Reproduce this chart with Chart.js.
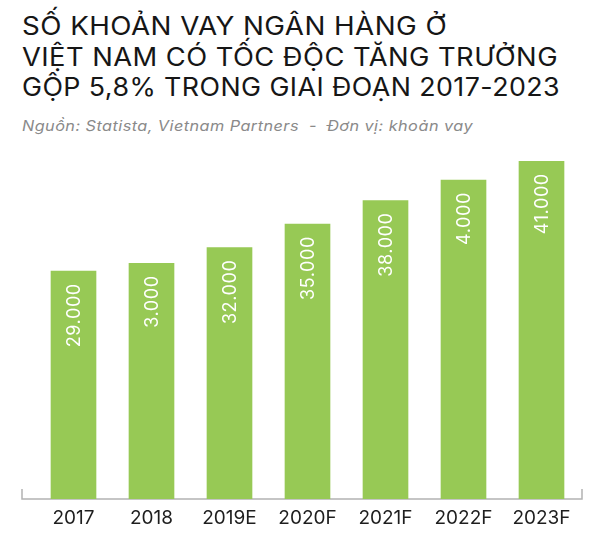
<!DOCTYPE html>
<html>
<head>
<meta charset="utf-8">
<script src="https://cdn.jsdelivr.net/npm/chart.js@4"></script>
<style>
html,body{margin:0;padding:0;background:#fff;width:600px;height:541px;overflow:hidden;}
#wrap{position:relative;width:600px;height:541px;}
#c{position:absolute;left:0;top:0;}
.t{position:absolute;left:22px;white-space:nowrap;font-family:'Inter',sans-serif;color:#161616;font-size:25px;line-height:25px;font-weight:400;transform-origin:0 0;}
.s{font-style:italic;color:#8a8a8a;font-size:14.5px;line-height:14.5px;}
</style>
</head>
<body>
<div id="wrap">
  <div class="t fit" style="top:14px" data-w="425">SỐ KHOẢN VAY NGÂN HÀNG Ở</div>
  <div class="t fit" style="top:44.5px" data-w="536">VIỆT NAM CÓ TỐC ĐỘC TĂNG TRƯỞNG</div>
  <div class="t fit" style="top:75px" data-w="538">GỘP 5,8% TRONG GIAI ĐOẠN 2017-2023</div>
  <div class="t s fit" style="top:119px" data-w="451">Nguồn: Statista, Vietnam Partners&nbsp; - &nbsp;Đơn vị: khoản vay</div>
  <canvas id="c" width="600" height="541"></canvas>
</div>
<script>
// ---- data ----
const categories = ['2017', '2018', '2019E', '2020F', '2021F', '2022F', '2023F'];
const loanValues = [29000, 30000, 32000, 35000, 38000, 40600, 43000];
const valueLabels = ['29.000', '3.000', '32.000', '35.000', '38.000', '4.000', '41.000'];
const yMax = 45000;

// fit title line widths: mild letter spacing plus horizontal scaling
document.querySelectorAll('.fit').forEach(el => {
  const target = parseFloat(el.dataset.w);
  const n = el.textContent.length;
  el.style.letterSpacing = '0.4px';
  const w = el.getBoundingClientRect().width;
  el.style.transform = 'scaleX(' + (target / w) + ')';
});

const BAR_GREEN = '#97c955';

const baselinePlugin = {
  id: 'baseline',
  beforeDatasetsDraw(chart) {
    const {ctx, chartArea} = chart;
    const y = chartArea.bottom;
    const x0 = chartArea.left - 12.5, x1 = chartArea.right + 1.5;
    ctx.save();
    ctx.strokeStyle = '#b3b3b3';
    ctx.lineWidth = 1.5;
    ctx.beginPath();
    ctx.moveTo(x0, y - 10);
    ctx.lineTo(x0, y);
    ctx.lineTo(x1, y);
    ctx.lineTo(x1, y - 10);
    ctx.stroke();
    ctx.restore();
  }
};

const valueLabelPlugin = {
  id: 'valueLabels',
  afterDatasetsDraw(chart) {
    const {ctx} = chart;
    const meta = chart.getDatasetMeta(0);
    ctx.save();
    ctx.fillStyle = '#ffffff';
    ctx.font = '400 18px Inter, sans-serif';
    try { ctx.letterSpacing = '0.6px'; } catch (e) {}
    meta.data.forEach((bar, i) => {
      ctx.save();
      ctx.translate(bar.x, bar.y + 12);
      ctx.rotate(-Math.PI / 2);
      ctx.textAlign = 'right';
      ctx.textBaseline = 'middle';
      ctx.fillText(valueLabels[i], 0, 1);
      ctx.restore();
    });
    ctx.restore();
  }
};

new Chart(document.getElementById('c'), {
  type: 'bar',
  data: {
    labels: categories,
    datasets: [{
      data: loanValues,
      backgroundColor: BAR_GREEN,
      borderWidth: 0,
      barThickness: 45
    }]
  },
  options: {
    responsive: false,
    animation: false,
    devicePixelRatio: 1,
    layout: { padding: { left: 34.5, right: 19.5, top: 145.5, bottom: 0 } },
    plugins: { legend: { display: false }, tooltip: { enabled: false }, title: { display: false } },
    scales: {
      x: {
        grid: { display: false, drawTicks: false },
        border: { display: false },
        ticks: { color: '#1e1e1e', font: { family: 'Inter', size: 19 }, padding: 8, maxRotation: 0 },
        afterFit(scale) { scale.height = 42; }
      },
      y: {
        display: false,
        min: 0,
        max: yMax
      }
    }
  },
  plugins: [baselinePlugin, valueLabelPlugin]
});
</script>
</body>
</html>
